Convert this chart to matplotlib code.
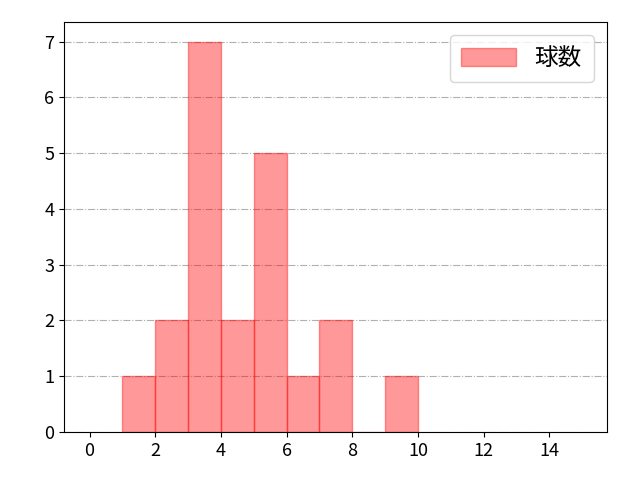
import numpy as np
import matplotlib
matplotlib.use("Agg")
import matplotlib.pyplot as plt

plt.rcParams['font.family'] = ['Noto Sans CJK JP', 'DejaVu Sans']

bin_left = [1, 2, 3, 4, 5, 6, 7, 8, 9]
counts = [1, 2, 7, 2, 5, 1, 2, 0, 1]
xticks = [0, 2, 4, 6, 8, 10, 12, 14]

fig, ax = plt.subplots(figsize=(6.4, 4.8), dpi=100)
ax.bar(bin_left, counts, width=1, align='edge', color='#ff0000', alpha=0.4,
       edgecolor='#ff0000', linewidth=1, label='球数')
ax.set_xlim(-0.78, 15.75)
ax.set_ylim(0, 7.35)
ax.set_xticks(xticks)
ax.set_yticks(range(8))
ax.tick_params(labelsize=13)
ax.grid(axis='y', linestyle='-.', color='#b0b0b0', linewidth=0.8)
ax.set_axisbelow(True)
ax.legend(loc='upper right', fontsize=17, handlelength=2.3, handleheight=0.8,
          borderpad=0.5, borderaxespad=0.55)
fig.subplots_adjust(left=0.1, right=0.948, bottom=0.1, top=0.954)
fig.savefig('out.png')
